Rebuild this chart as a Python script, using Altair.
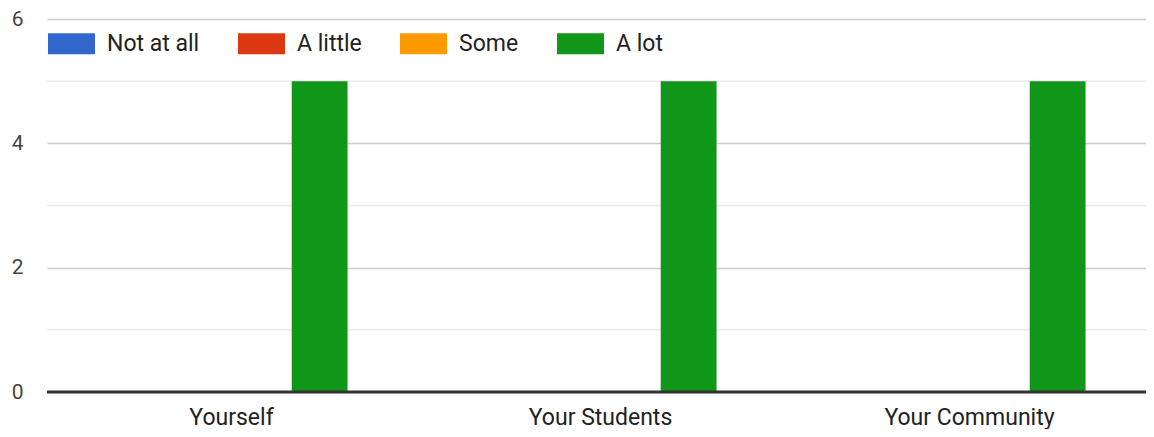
import altair as alt
import pandas as pd

categories = ["Yourself", "Your Students", "Your Community"]
series = ["Not at all", "A little", "Some", "A lot"]
colors = ["#3366cc", "#dc3912", "#ff9900", "#109618"]
values = {
    "Not at all": [0, 0, 0],
    "A little": [0, 0, 0],
    "Some": [0, 0, 0],
    "A lot": [5, 5, 5],
}
y_major = [0, 2, 4, 6]
y_minor = [1, 3, 5]

rows = []
for s in series:
    for c, v in zip(categories, values[s]):
        rows.append({"category": c, "series": s, "value": v})
df = pd.DataFrame(rows)

FONT = "Roboto"
FS = 23

yscale = alt.Scale(domain=[0, 6], nice=False)

minor = alt.Chart(pd.DataFrame({"y": y_minor})).mark_rule(
    color="#ebebeb", strokeWidth=1.5
).encode(y=alt.Y("y:Q", scale=yscale))

bars = alt.Chart(df).mark_bar().encode(
    x=alt.X(
        "category:N",
        sort=categories,
        scale=alt.Scale(paddingInner=0.371, paddingOuter=0.1855),
        axis=alt.Axis(
            title=None, labelAngle=0, domain=False, ticks=False,
            labelFontSize=FS, labelFont=FONT, labelColor="#222222",
            labelPadding=14,
        ),
    ),
    xOffset=alt.XOffset("series:N", sort=series,
                        scale=alt.Scale(paddingInner=0.05, paddingOuter=0)),
    y=alt.Y(
        "value:Q",
        scale=yscale,
        axis=alt.Axis(
            title=None, values=y_major, format="d", domain=False, ticks=False,
            labelFontSize=21, labelFont=FONT, labelColor="#444444",
            labelPadding=24, gridColor="#cccccc", gridWidth=1.5,
        ),
    ),
    color=alt.Color(
        "series:N",
        sort=series,
        scale=alt.Scale(domain=series, range=colors),
        legend=alt.Legend(
            title=None, orient="none", direction="horizontal",
            legendX=1, legendY=1, padding=0,
            symbolType="M-1,-0.447H1V0.447H-1Z", symbolSize=2209,
            symbolStrokeWidth=0, symbolOpacity=1,
            labelFontSize=FS, labelFont=FONT, labelColor="#222222",
            labelOffset=12, columnPadding=38, labelLimit=300,
        ),
    ),
)

baseline = alt.Chart(pd.DataFrame({"y": [0]})).mark_rule(
    color="#333333", strokeWidth=3
).encode(y=alt.Y("y:Q", scale=yscale))

chart = alt.layer(minor, bars, baseline).properties(
    width=1107, height=373,
    autosize=alt.AutoSizeParams(type="none"),
    padding={"left": 39, "top": 11, "right": -8, "bottom": 37},
).configure_view(stroke=None)

chart.save("out.html", embed_options={"renderer": "svg", "actions": False})
